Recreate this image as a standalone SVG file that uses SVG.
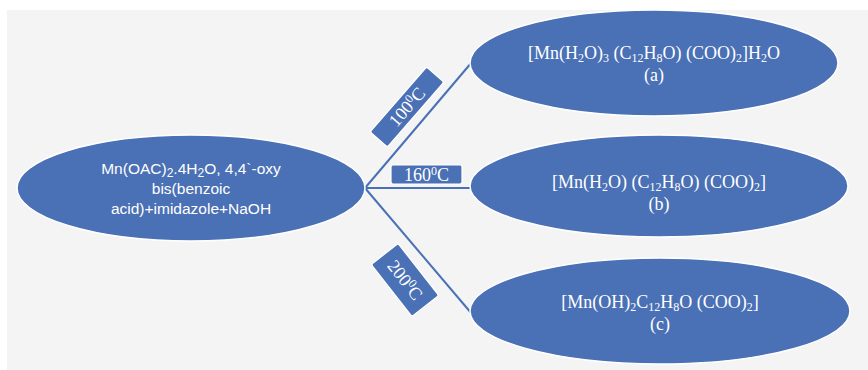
<svg xmlns="http://www.w3.org/2000/svg" width="868" height="370" viewBox="0 0 868 370">
  <defs>
    <style>
      .node { fill: #4a70b5; stroke: #ffffff; stroke-width: 1.5; }
      .tag { fill: #4a70b5; stroke: #ffffff; stroke-width: 1.2; }
      .edge { stroke: #4a70b5; stroke-width: 2; fill: none; }
      .serif { font-family: "Liberation Serif", "Times New Roman", serif; fill: #ffffff; text-anchor: middle; font-size: 18px; }
      .sans { font-family: "Liberation Sans", Arial, sans-serif; fill: #ffffff; text-anchor: middle; font-size: 15.5px; }
      .sub { font-size: 12px; }
      .sup { font-size: 12px; }
    </style>
  </defs>

  <rect x="7" y="10" width="861" height="360" fill="#f4f4f4"/>

  <g id="connectors">
    <line class="edge" x1="365" y1="188" x2="472" y2="62"/>
    <line class="edge" x1="365" y1="188" x2="472" y2="188"/>
    <line class="edge" x1="365" y1="188" x2="472" y2="314"/>
  </g>

  <g id="reactants">
    <ellipse class="node" cx="191" cy="188" rx="174" ry="53"/>
    <text class="sans" x="191" y="174">Mn(OAC)<tspan class="sub" dy="3">2</tspan><tspan dy="-3">.4H</tspan><tspan class="sub" dy="3">2</tspan><tspan dy="-3">O, 4,4`-oxy</tspan></text>
    <text class="sans" x="191" y="194">bis(benzoic</text>
    <text class="sans" x="191" y="214">acid)+imidazole+NaOH</text>
  </g>

  <g id="label-100">
    <rect class="tag" x="-43" y="-11.5" width="86" height="23" rx="2" transform="translate(407,107) rotate(-49)"/>
    <text class="serif" transform="translate(407,107) rotate(-49)" y="6">100<tspan class="sup" dy="-6">0</tspan><tspan dy="6">C</tspan></text>
  </g>

  <g id="label-160">
    <rect class="tag" x="391" y="165" width="71" height="19" rx="2"/>
    <text class="serif" x="426.5" y="181">160<tspan class="sup" dy="-6">0</tspan><tspan dy="6">C</tspan></text>
  </g>

  <g id="label-200">
    <rect class="tag" x="-33" y="-17" width="66" height="34" rx="2" transform="translate(405,280) rotate(52)"/>
    <text class="serif" transform="translate(405,280) rotate(52)" y="6">200<tspan class="sup" dy="-6">0</tspan><tspan dy="6">C</tspan></text>
  </g>

  <g id="product-a">
    <ellipse class="node" cx="654" cy="63" rx="184" ry="53"/>
    <text class="serif" x="654" y="59">[Mn(H<tspan class="sub" dy="3">2</tspan><tspan dy="-3">O)</tspan><tspan class="sub" dy="3">3</tspan><tspan dy="-3"> (C</tspan><tspan class="sub" dy="3">12</tspan><tspan dy="-3">H</tspan><tspan class="sub" dy="3">8</tspan><tspan dy="-3">O) (COO)</tspan><tspan class="sub" dy="3">2</tspan><tspan dy="-3">]H</tspan><tspan class="sub" dy="3">2</tspan><tspan dy="-3">O</tspan></text>
    <text class="serif" x="654" y="81">(a)</text>
  </g>

  <g id="product-b">
    <ellipse class="node" cx="659" cy="186" rx="189" ry="51"/>
    <text class="serif" x="659" y="188">[Mn(H<tspan class="sub" dy="3">2</tspan><tspan dy="-3">O) (C</tspan><tspan class="sub" dy="3">12</tspan><tspan dy="-3">H</tspan><tspan class="sub" dy="3">8</tspan><tspan dy="-3">O) (COO)</tspan><tspan class="sub" dy="3">2</tspan><tspan dy="-3">]</tspan></text>
    <text class="serif" x="659" y="210">(b)</text>
  </g>

  <g id="product-c">
    <ellipse class="node" cx="660" cy="311" rx="190" ry="53"/>
    <text class="serif" x="660" y="308">[Mn(OH)<tspan class="sub" dy="3">2</tspan><tspan dy="-3">C</tspan><tspan class="sub" dy="3">12</tspan><tspan dy="-3">H</tspan><tspan class="sub" dy="3">8</tspan><tspan dy="-3">O (COO)</tspan><tspan class="sub" dy="3">2</tspan><tspan dy="-3">]</tspan></text>
    <text class="serif" x="660" y="330">(c)</text>
  </g>
</svg>
